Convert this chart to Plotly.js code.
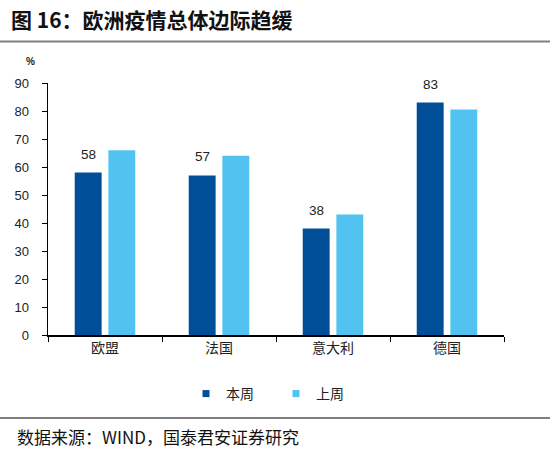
<!DOCTYPE html>
<html>
<head>
<meta charset="utf-8">
<script src="https://cdn.plot.ly/plotly-3.0.1.min.js"></script>
<style>html,body{margin:0;padding:0;background:#fff;}#chart{width:550px;height:455px;}</style>
</head>
<body>
<div id="chart"></div>
<script>
const categories = ["欧盟", "法国", "意大利", "德国"];
const thisWeek = [58, 57, 38, 83];
const lastWeek = [66, 64, 43, 80.5];
const thisWeekLabels = ["58", "57", "38", "83"];
const seriesNames = ["本周", "上周"];
const seriesColors = ["#004e98", "#52c3f0"];
const yTicks = [0, 10, 20, 30, 40, 50, 60, 70, 80, 90];

const cjk = '"Noto Sans CJK SC", sans-serif';
const num = '"Liberation Sans", Arial, sans-serif';

const traces = [
  {type: "bar", name: seriesNames[0], x: categories, y: thisWeek,
   marker: {color: seriesColors[0]}, showlegend: false, hoverinfo: "none"},
  {type: "bar", name: seriesNames[1], x: categories, y: lastWeek,
   marker: {color: seriesColors[1]}, showlegend: false, hoverinfo: "none"},
  // legend entries (square markers, no data drawn)
  {type: "scatter", mode: "markers", name: seriesNames[0], x: [null], y: [null],
   marker: {symbol: "square", size: 7, color: seriesColors[0]}, hoverinfo: "none"},
  {type: "scatter", mode: "markers", name: seriesNames[1], x: [null], y: [null],
   marker: {symbol: "square", size: 7, color: seriesColors[1]}, hoverinfo: "none"}
];

const labelAnnotations = categories.map((c, i) => ({
  x: c, y: thisWeek[i], xref: "x", yref: "y", text: thisWeekLabels[i],
  showarrow: false, xanchor: "center", yanchor: "bottom", yshift: 9, xshift: -17,
  font: {family: num, size: 13.5, color: "#222"}
}));

const layout = {
  width: 550, height: 455,
  margin: {l: 48, r: 46, t: 83, b: 120},
  paper_bgcolor: "#fff", plot_bgcolor: "#fff",
  barmode: "group", bargap: 0.41, bargroupgap: 0.2,
  showlegend: true,
  legend: {
    orientation: "h", x: 0.50, xanchor: "center", y: -0.234, yanchor: "middle",
    font: {family: cjk, size: 14, color: "#222"},
    entrywidth: 45, itemwidth: 30, traceorder: "normal"
  },
  xaxis: {
    type: "category", showline: true, linecolor: "#000", linewidth: 1.5,
    ticks: "outside", tickson: "boundaries", ticklen: 5, tickcolor: "#000",
    tickfont: {family: cjk, size: 14, color: "#222"},
    showgrid: false, zeroline: false, fixedrange: true
  },
  yaxis: {
    range: [0, 90], tickvals: yTicks, showline: true, linecolor: "#000", linewidth: 1.5,
    ticks: "outside", ticklen: 5, tickcolor: "#000",
    tickfont: {family: num, size: 13, color: "#222"},
    ticklabelstandoff: 10,
    showgrid: false, zeroline: false, fixedrange: true
  },
  shapes: [
    {type: "line", xref: "paper", yref: "paper", x0: -0.106, x1: 1.102, y0: 1.165, y1: 1.165,
     line: {color: "#808080", width: 2}},
    {type: "line", xref: "paper", yref: "paper", x0: -0.106, x1: 1.102, y0: -0.329, y1: -0.329,
     line: {color: "#808080", width: 2}}
  ],
  annotations: [
    {text: "<b>图 16：欧洲疫情总体边际趋缓</b>", xref: "paper", yref: "paper",
     x: -0.086, y: 1.2525, xanchor: "left", yanchor: "middle", showarrow: false,
     font: {family: cjk, size: 21, color: "#111"}},
    {text: "<b>%</b>", xref: "paper", yref: "paper",
     x: -0.039, y: 1.086, xanchor: "center", yanchor: "middle", showarrow: false,
     font: {family: num, size: 10, color: "#222"}},
    {text: "数据来源：WIND，国泰君安证券研究", xref: "paper", yref: "paper",
     x: -0.072, y: -0.404, xanchor: "left", yanchor: "middle", showarrow: false,
     font: {family: cjk, size: 17, color: "#111"}}
  ].concat(labelAnnotations)
};

Plotly.newPlot("chart", traces, layout, {staticPlot: true, displayModeBar: false});
</script>
</body>
</html>
